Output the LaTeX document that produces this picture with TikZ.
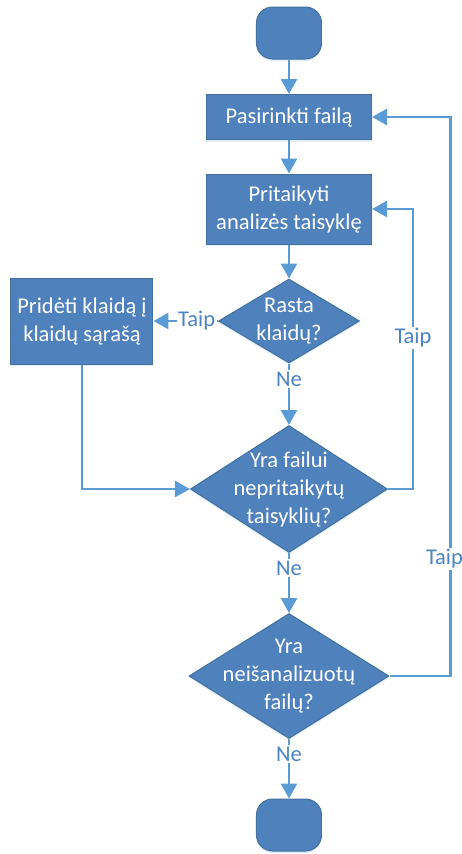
\documentclass[tikz,border=0pt]{standalone}
\usepackage{fontspec}
\setmainfont{Carlito}
\usetikzlibrary{shapes.geometric,arrows.meta,shadows}
\definecolor{boxblue}{HTML}{4F81BD}
\definecolor{boxline}{HTML}{41719C}
\definecolor{linkblue}{HTML}{5B9BD5}
\definecolor{labblue}{HTML}{4A84C4}
\begin{document}
\begin{tikzpicture}[x=1pt,y=1pt,->,>={Triangle[width=16pt,length=15pt]},line width=2.5pt,color=linkblue,node distance=100pt,
    flow box/.style={fill=boxblue,draw=boxline,line width=1pt,text=white,align=center,font=\fontsize{22.5}{28}\selectfont,
        drop shadow={fill=linkblue,opacity=0.18,shadow xshift=0pt,shadow yshift=-2pt}},
    term node/.style={flow box,rectangle,rounded corners=16pt,minimum width=65pt,minimum height=52pt},
    proc node/.style={flow box,rectangle,minimum width=165pt,minimum height=45pt},
    dec node/.style={flow box,diamond,inner sep=0pt},
    dec text/.style={text=white,align=center,font=\fontsize{22.5}{28}\selectfont},
    lab/.style={fill=white,text=labblue,inner sep=1.5pt,font=\fontsize{22.5}{26}\selectfont}]

            \useasboundingbox (-289,33) rectangle (173,-821);

            \node[term node] (start) {};
            \node[proc node] (pasir) [below of=start, yshift=16]{Pasirinkti failą};
            \node[proc node, minimum height=70pt] (prit) [below of=pasir, yshift=8]{Pritaikyti\\analizės taisyklę};
            \node[dec node, minimum width=141pt, minimum height=84pt,
                label={[dec text]center:Rasta\\klaidų?}] (rasta) [below of=prit, yshift=-12]{};
            \node[proc node, minimum width=142pt, minimum height=86pt] (prid) [left of=rasta, xshift=-107]{Pridėti klaidą į\\klaidų sąrašą};
            \node[dec node, minimum width=197pt, minimum height=127pt,
                label={[dec text]center:Yra failui\\nepritaikytų\\taisyklių?}] (tais) [below of=rasta, yshift=-68]{};
            \node[dec node, minimum width=200pt, minimum height=125pt,
                label={[dec text]center:Yra\\neišanalizuotų\\failų?}] (neisan) [below of=tais, yshift=-87]{};
            \node[term node] (finish) [below of=neisan, yshift=-49]{};

            \draw (start) -- (pasir);
            \draw (pasir) -- (prit);
            \draw (prit) -- (rasta);
            \draw (rasta.west) -- node[lab, pos=0.33]{Taip} (prid.east);
            \draw (rasta.south) -- node[lab, pos=0.25]{Ne} (tais.north);
            \draw (prid.south) |- (tais.west);
            \draw (tais.east) -- ++(25,0) |- node[lab, pos=0.27]{Taip} (prit.east);
            \draw (tais.south) -- node[lab, pos=0.25]{Ne} (neisan.north);
            \draw (neisan.east) -- ++(61,0) |- node[lab, pos=0.105, xshift=-6]{Taip} (pasir.east);
            \draw (neisan.south) -- node[lab, pos=0.25]{Ne} (finish.north);
        \end{tikzpicture}
\end{document}
